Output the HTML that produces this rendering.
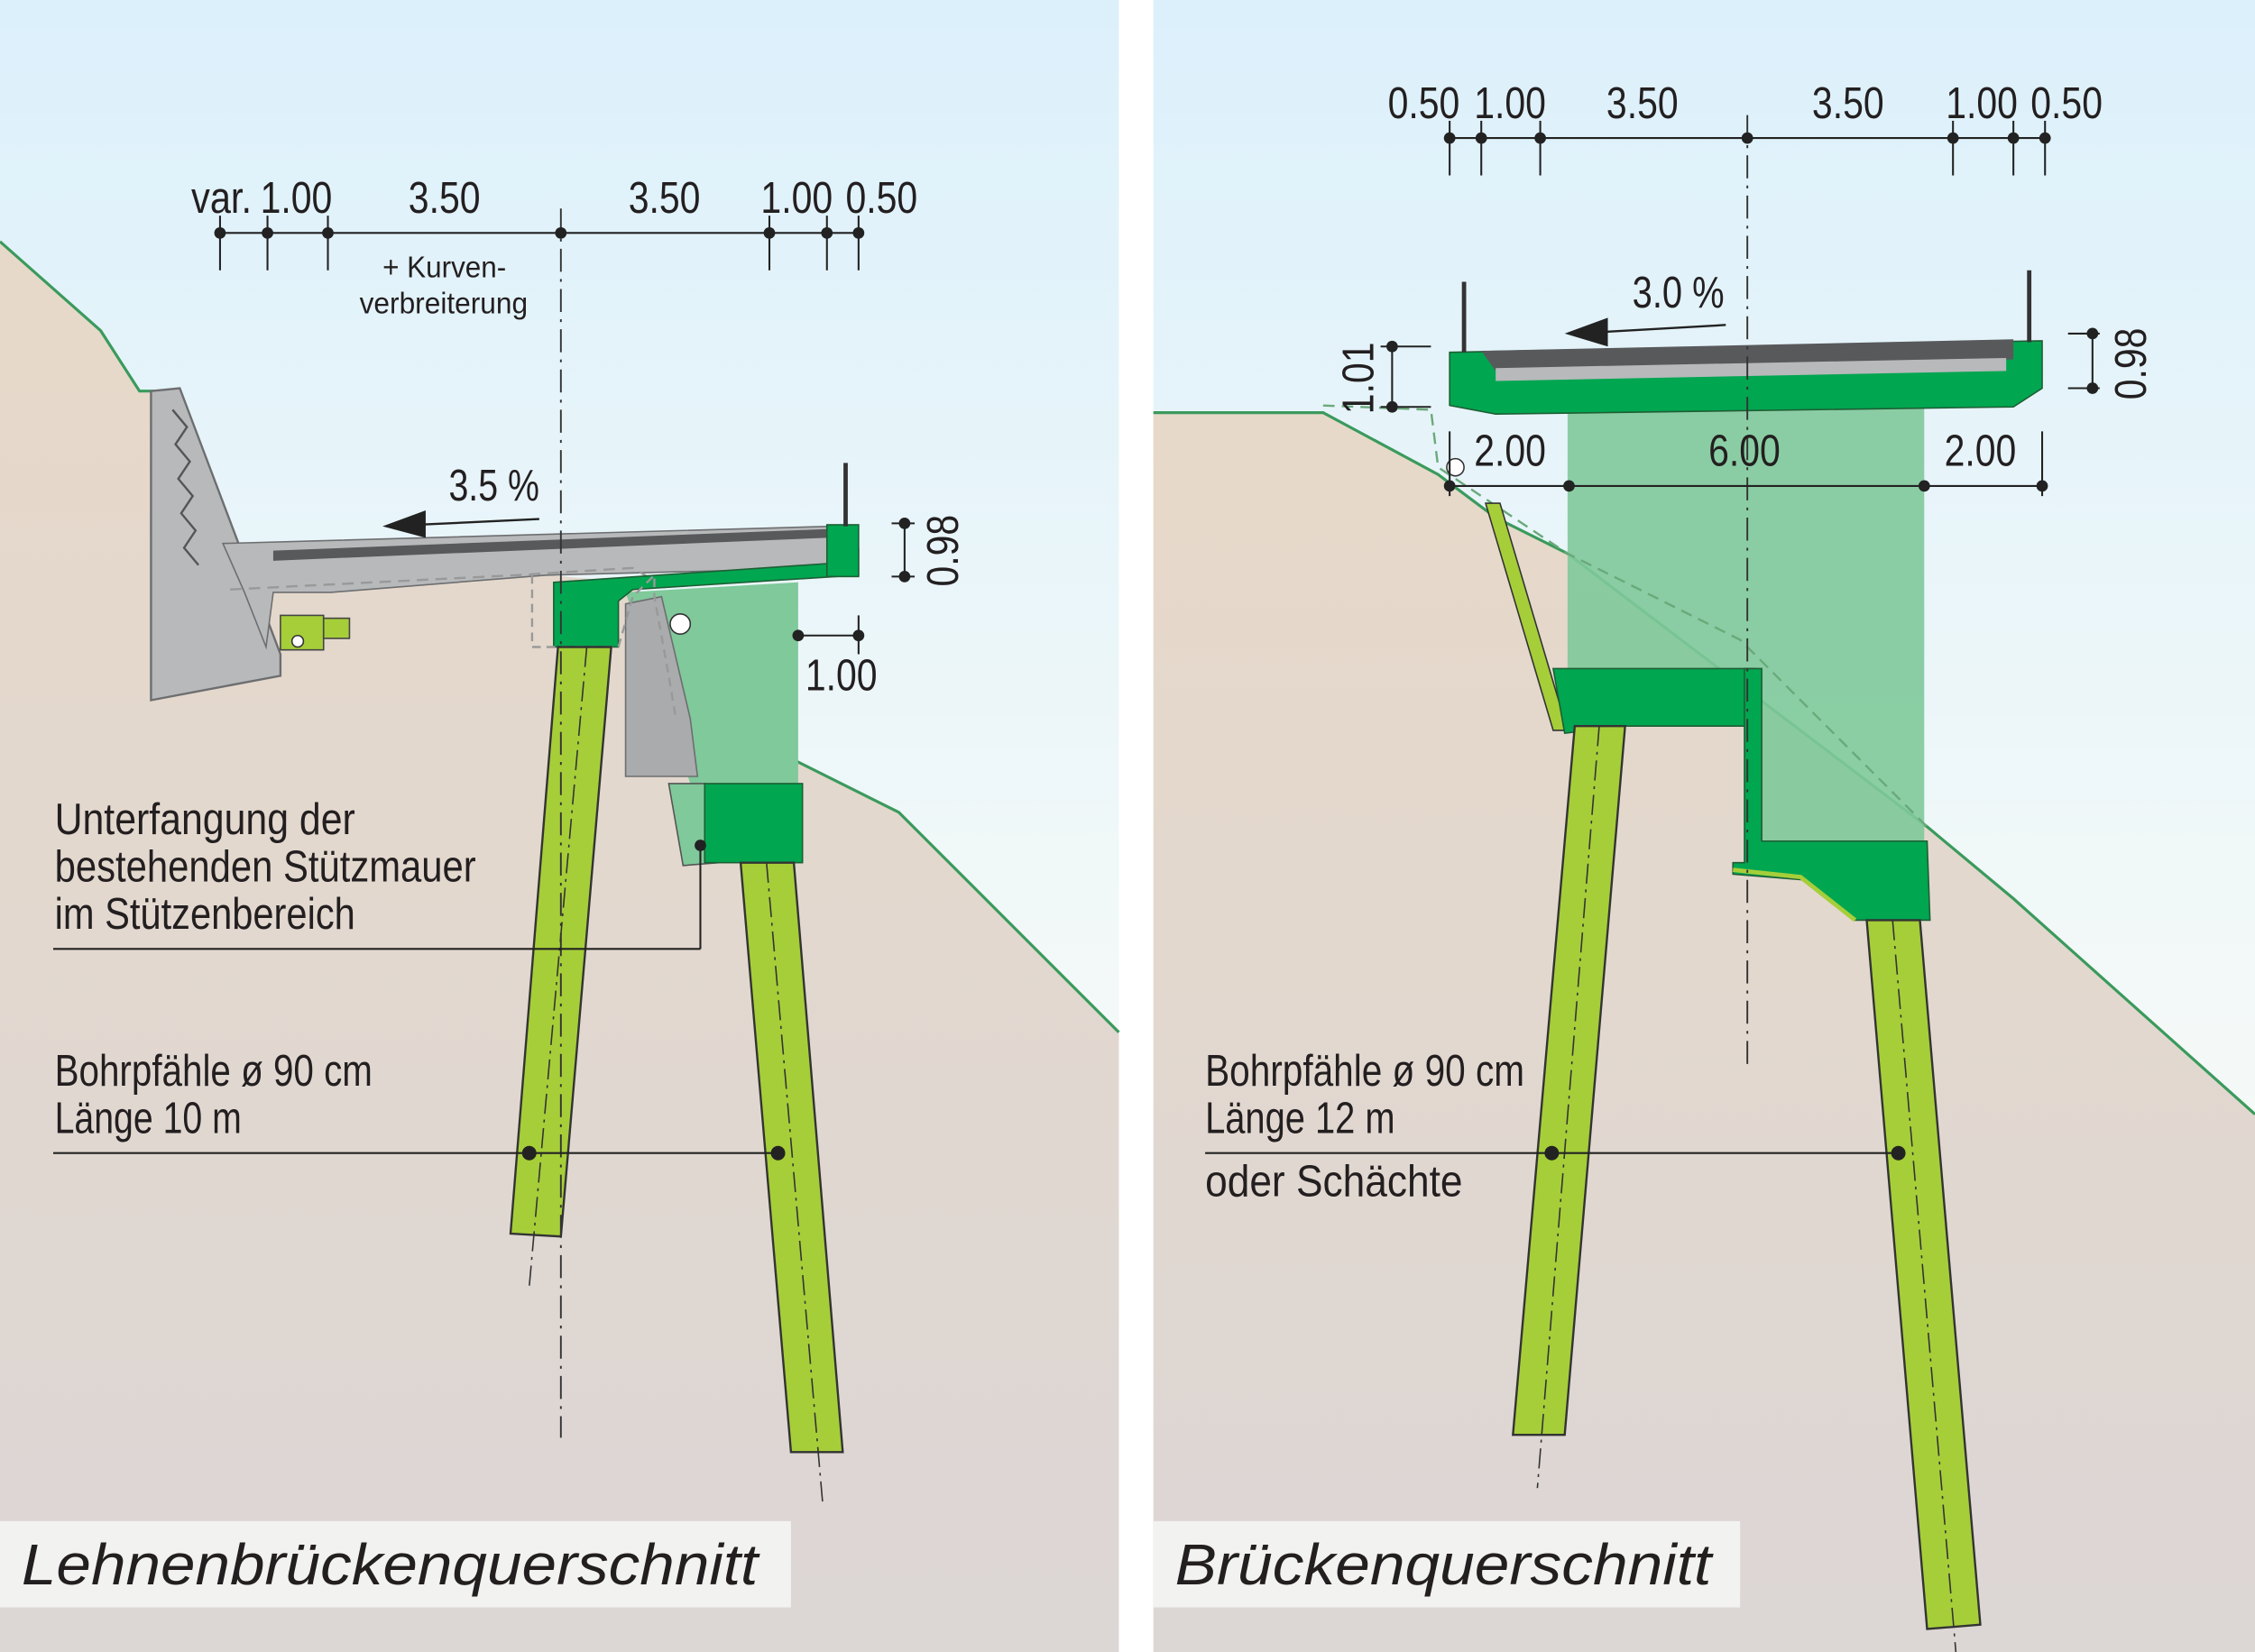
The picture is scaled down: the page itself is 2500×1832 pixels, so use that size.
<!DOCTYPE html>
<html><head><meta charset="utf-8"><style>
html,body{margin:0;padding:0;background:#fff}
svg{display:block}
text{font-family:"Liberation Sans",sans-serif;fill:#231f20}
</style></head><body>
<svg width="2500" height="1832" viewBox="0 0 1568 1149" xmlns="http://www.w3.org/2000/svg">
<defs>
<linearGradient id="sky" x1="0" y1="0" x2="0" y2="1"><stop offset="0" stop-color="#dcf0fb"/><stop offset="0.6" stop-color="#f3f9f8"/><stop offset="1" stop-color="#fbfbf6"/></linearGradient>
<linearGradient id="gnd" x1="0" y1="0" x2="0" y2="1"><stop offset="0" stop-color="#e7d9c9"/><stop offset="1" stop-color="#dcd6d5"/></linearGradient>
</defs>
<rect width="1568" height="1149" fill="#fff"/>
<rect x="0" y="0" width="778" height="1149" fill="url(#sky)"/>
<rect x="802" y="0" width="766" height="1149" fill="url(#sky)"/>
<polygon points="0,168 70,230 97,272 110,272 160,385 380,400 440,405 480,500 555,530 625,565 680,620 778,718 778,1149 0,1149" fill="url(#gnd)"/>
<polyline points="0,168 70,230 97,272 108,272" fill="none" stroke="#3a9a5c" stroke-width="2"/>
<polyline points="480,500 555,530 625,565 680,620 778,718" fill="none" stroke="#3a9a5c" stroke-width="2"/>
<polygon points="802,287 920,287 1000,330 1040,360 1090,385 1340,575 1400,625 1568,775 1568,1149 802,1149" fill="url(#gnd)"/>
<polyline points="802,287 920,287 1000,330 1040,360 1090,385 1340,575 1400,625 1568,775" fill="none" stroke="#3a9a5c" stroke-width="2"/>

<polygon points="105,272 125,270 195,455 195,470 105,487" fill="#b7b9bb" stroke="#6d6e70" stroke-width="1.5"/>
<path d="M120,285 l10,12 l-8,12 l10,12 l-8,12 l10,12 l-8,12 l10,12 l-8,12 l10,12" fill="none" stroke="#555" stroke-width="1.5"/>
<polygon points="155,378 580,366 580,395 380,400 230,412 190,412 185,450 170,412" fill="#b7b9bb" stroke="#6d6e70" stroke-width="1"/>
<polygon points="190,383 575,368 575,374 190,390" fill="#58595b"/>
<rect x="195" y="428" width="30" height="24" fill="#a6ce39" stroke="#444" stroke-width="1"/>
<circle cx="207" cy="446" r="4" fill="#fff" stroke="#333"/>
<rect x="225" y="430" width="18" height="14" fill="#a6ce39" stroke="#444" stroke-width="1"/>
<polyline points="160,410 360,400 440,395 465,410" fill="none" stroke="#999" stroke-width="1.5" stroke-dasharray="8,5"/>
<polygon points="435,412 555,405 555,545 480,545" fill="#7fc99a"/>
<polygon points="435,420 460,415 480,500 485,540 435,540" fill="#a9abad" stroke="#6d6e70" stroke-width="1"/>
<polygon points="465,545 490,545 500,600 475,602" fill="#7fc99a" stroke="#555" stroke-width="1"/>
<polygon points="385,405 575,392 597,382 597,400 440,410 430,418 430,450 385,450" fill="#00a650" stroke="#1e5e34" stroke-width="1"/>
<rect x="575" y="365" width="22" height="36" fill="#00a650" stroke="#1e5e34" stroke-width="1"/>
<line x1="588" y1="322" x2="588" y2="366" stroke="#333" stroke-width="3"/>
<circle cx="473" cy="434" r="7" fill="#fff" stroke="#333"/>
<polyline points="370,400 370,450 430,450 440,415 455,400 455,415 465,470 470,500" fill="none" stroke="#999" stroke-width="1.5" stroke-dasharray="6,4"/>
<rect x="490" y="545" width="68" height="55" fill="#00a650" stroke="#1e5e34" stroke-width="1"/>
<polygon points="388,450 425,450 390,860 355,858" fill="#a6ce39" stroke="#333" stroke-width="1.5"/>
<polygon points="515,600 552,600 586,1010 550,1010" fill="#a6ce39" stroke="#333" stroke-width="1.5"/>
<line x1="408" y1="450" x2="368" y2="895" stroke="#333" stroke-width="1" stroke-dasharray="14,4,2,4"/>
<line x1="533" y1="600" x2="572" y2="1045" stroke="#333" stroke-width="1" stroke-dasharray="14,4,2,4"/>
<line x1="390" y1="145" x2="390" y2="1000" stroke="#333" stroke-width="1.2" stroke-dasharray="16,5,2,5"/>
<line x1="153" y1="162" x2="597" y2="162" stroke="#222" stroke-width="1.3"/>
<g stroke="#222" stroke-width="1.3">
<line x1="153" y1="150" x2="153" y2="188"/><line x1="186" y1="150" x2="186" y2="188"/><line x1="228" y1="150" x2="228" y2="188"/><line x1="535" y1="150" x2="535" y2="188"/><line x1="575" y1="150" x2="575" y2="188"/><line x1="597" y1="150" x2="597" y2="188"/>
<line x1="620" y1="364" x2="636" y2="364"/><line x1="620" y1="401" x2="636" y2="401"/><line x1="629" y1="364" x2="629" y2="401"/>
<line x1="555" y1="442" x2="597" y2="442"/><line x1="597" y1="428" x2="597" y2="455"/>
<line x1="37" y1="660" x2="487" y2="660"/><line x1="487" y1="588" x2="487" y2="660"/>
<line x1="37" y1="802" x2="541" y2="802"/>
</g>
<g fill="#222"><circle cx="153" cy="162" r="4"/><circle cx="186" cy="162" r="4"/><circle cx="228" cy="162" r="4"/><circle cx="390" cy="162" r="4"/><circle cx="535" cy="162" r="4"/><circle cx="575" cy="162" r="4"/><circle cx="597" cy="162" r="4"/>
<circle cx="629" cy="364" r="4"/><circle cx="629" cy="401" r="4"/><circle cx="555" cy="442" r="4"/><circle cx="597" cy="442" r="4"/><circle cx="487" cy="588" r="4"/><circle cx="368" cy="802" r="5"/><circle cx="541" cy="802" r="5"/></g>
<line x1="290" y1="365" x2="375" y2="361" stroke="#222" stroke-width="1.5"/>
<polygon points="266,366 296,355 296,374" fill="#222"/>
<g font-size="31">
<text x="133" y="148" textLength="42" lengthAdjust="spacingAndGlyphs">var.</text>
<text x="181" y="148" textLength="50" lengthAdjust="spacingAndGlyphs">1.00</text>
<text x="284" y="148" textLength="50" lengthAdjust="spacingAndGlyphs">3.50</text>
<text x="437" y="148" textLength="50" lengthAdjust="spacingAndGlyphs">3.50</text>
<text x="529" y="148" textLength="50" lengthAdjust="spacingAndGlyphs">1.00</text>
<text x="588" y="148" textLength="50" lengthAdjust="spacingAndGlyphs">0.50</text>
<text x="312" y="348" textLength="63" lengthAdjust="spacingAndGlyphs">3.5 %</text>
<text x="560" y="480" textLength="50" lengthAdjust="spacingAndGlyphs">1.00</text>
<text x="0" y="0" transform="translate(666,408) rotate(-90)" textLength="50" lengthAdjust="spacingAndGlyphs">0.98</text>
<text x="38" y="580" textLength="209" lengthAdjust="spacingAndGlyphs">Unterfangung der</text>
<text x="38" y="613" textLength="293" lengthAdjust="spacingAndGlyphs">bestehenden Stützmauer</text>
<text x="38" y="646" textLength="209" lengthAdjust="spacingAndGlyphs">im Stützenbereich</text>
<text x="38" y="755" textLength="221" lengthAdjust="spacingAndGlyphs">Bohrpfähle ø 90 cm</text>
<text x="38" y="788" textLength="130" lengthAdjust="spacingAndGlyphs">Länge 10 m</text>
</g>
<text x="266" y="193" font-size="21" textLength="86" lengthAdjust="spacingAndGlyphs">+ Kurven-</text>
<text x="250" y="218" font-size="21" textLength="117" lengthAdjust="spacingAndGlyphs">verbreiterung</text>

<polygon points="1090,285 1338,280 1338,585 1220,585 1220,465 1090,465" fill="#7fc99a" fill-opacity="0.9"/>
<polyline points="920,282 995,285 1000,325 1090,385 1210,445 1340,575" fill="none" stroke="#6aa97a" stroke-width="1.5" stroke-dasharray="8,5"/>
<polygon points="1033,350 1043,350 1090,508 1080,508" fill="#a6ce39" stroke="#333" stroke-width="1"/>
<polygon points="1080,465 1220,465 1220,505 1130,505 1088,510" fill="#00a650" stroke="#1e5e34" stroke-width="1"/>
<polygon points="1213,465 1225,465 1225,585 1340,585 1342,640 1290,640 1255,612 1205,608 1205,600 1213,600" fill="#00a650" stroke="#1e5e34" stroke-width="1"/>
<polyline points="1205,605 1252,610 1290,640" fill="none" stroke="#a6ce39" stroke-width="3"/>
<polygon points="1008,245 1420,237 1420,270 1400,283 1040,288 1008,282" fill="#00a650" stroke="#1e5e34" stroke-width="1"/>
<polygon points="1030,244 1400,236 1400,250 1040,258" fill="#58595b"/>
<polygon points="1040,256 1395,249 1395,258 1040,265" fill="#b7b9bb"/>
<line x1="1018" y1="196" x2="1018" y2="245" stroke="#333" stroke-width="3"/>
<line x1="1411" y1="188" x2="1411" y2="238" stroke="#333" stroke-width="3"/>
<circle cx="1012" cy="325" r="6" fill="#fff" stroke="#333"/>
<polygon points="1095,505 1130,505 1088,998 1052,998" fill="#a6ce39" stroke="#333" stroke-width="1.5"/>
<polygon points="1298,640 1335,640 1377,1130 1340,1133" fill="#a6ce39" stroke="#333" stroke-width="1.5"/>
<line x1="1112" y1="505" x2="1069" y2="1035" stroke="#333" stroke-width="1" stroke-dasharray="14,4,2,4"/>
<line x1="1316" y1="640" x2="1360" y2="1149" stroke="#333" stroke-width="1" stroke-dasharray="14,4,2,4"/>
<line x1="1215" y1="80" x2="1215" y2="745" stroke="#333" stroke-width="1.2" stroke-dasharray="16,5,2,5"/>
<line x1="1008" y1="96" x2="1422" y2="96" stroke="#222" stroke-width="1.3"/>
<line x1="1008" y1="338" x2="1422" y2="338" stroke="#222" stroke-width="1.3"/>
<g stroke="#222" stroke-width="1.3">
<line x1="1008" y1="84" x2="1008" y2="122"/><line x1="1030" y1="84" x2="1030" y2="122"/><line x1="1071" y1="84" x2="1071" y2="122"/><line x1="1358" y1="84" x2="1358" y2="122"/><line x1="1400" y1="84" x2="1400" y2="122"/><line x1="1422" y1="84" x2="1422" y2="122"/>
<line x1="1008" y1="300" x2="1008" y2="345"/><line x1="1420" y1="300" x2="1420" y2="345"/>
<line x1="960" y1="241" x2="995" y2="241"/><line x1="960" y1="283" x2="995" y2="283"/><line x1="968" y1="241" x2="968" y2="283"/>
<line x1="1438" y1="232" x2="1460" y2="232"/><line x1="1438" y1="270" x2="1460" y2="270"/><line x1="1455" y1="232" x2="1455" y2="270"/>
<line x1="838" y1="802" x2="1320" y2="802"/>
</g>
<g fill="#222"><circle cx="1008" cy="96" r="4"/><circle cx="1030" cy="96" r="4"/><circle cx="1071" cy="96" r="4"/><circle cx="1215" cy="96" r="4"/><circle cx="1358" cy="96" r="4"/><circle cx="1400" cy="96" r="4"/><circle cx="1422" cy="96" r="4"/>
<circle cx="1008" cy="338" r="4"/><circle cx="1091" cy="338" r="4"/><circle cx="1338" cy="338" r="4"/><circle cx="1420" cy="338" r="4"/>
<circle cx="968" cy="241" r="4"/><circle cx="968" cy="283" r="4"/><circle cx="1455" cy="232" r="4"/><circle cx="1455" cy="270" r="4"/>
<circle cx="1079" cy="802" r="5"/><circle cx="1320" cy="802" r="5"/></g>
<line x1="1112" y1="231" x2="1200" y2="226" stroke="#222" stroke-width="1.5"/>
<polygon points="1088,232 1118,221 1118,241" fill="#222"/>
<g font-size="31">
<text x="965" y="82" textLength="50" lengthAdjust="spacingAndGlyphs">0.50</text>
<text x="1025" y="82" textLength="50" lengthAdjust="spacingAndGlyphs">1.00</text>
<text x="1117" y="82" textLength="50" lengthAdjust="spacingAndGlyphs">3.50</text>
<text x="1260" y="82" textLength="50" lengthAdjust="spacingAndGlyphs">3.50</text>
<text x="1353" y="82" textLength="50" lengthAdjust="spacingAndGlyphs">1.00</text>
<text x="1412" y="82" textLength="50" lengthAdjust="spacingAndGlyphs">0.50</text>
<text x="1135" y="214" textLength="64" lengthAdjust="spacingAndGlyphs">3.0 %</text>
<text x="1025" y="324" textLength="50" lengthAdjust="spacingAndGlyphs">2.00</text>
<text x="1188" y="324" textLength="50" lengthAdjust="spacingAndGlyphs">6.00</text>
<text x="1352" y="324" textLength="50" lengthAdjust="spacingAndGlyphs">2.00</text>
<text x="0" y="0" transform="translate(955,288) rotate(-90)" textLength="50" lengthAdjust="spacingAndGlyphs">1.01</text>
<text x="0" y="0" transform="translate(1492,278) rotate(-90)" textLength="50" lengthAdjust="spacingAndGlyphs">0.98</text>
<text x="838" y="755" textLength="222" lengthAdjust="spacingAndGlyphs">Bohrpfähle ø 90 cm</text>
<text x="838" y="788" textLength="132" lengthAdjust="spacingAndGlyphs">Länge 12 m</text>
<text x="838" y="832" textLength="179" lengthAdjust="spacingAndGlyphs">oder Schächte</text>
</g>
<rect x="0" y="1058" width="550" height="60" fill="#f2f2f0"/>
<rect x="802" y="1058" width="408" height="60" fill="#f2f2f0"/>
<text x="15" y="1102" font-size="40" font-style="italic" textLength="512" lengthAdjust="spacingAndGlyphs">Lehnenbrückenquerschnitt</text>
<text x="817" y="1102" font-size="40" font-style="italic" textLength="373" lengthAdjust="spacingAndGlyphs">Brückenquerschnitt</text>
</svg>
</body></html>
